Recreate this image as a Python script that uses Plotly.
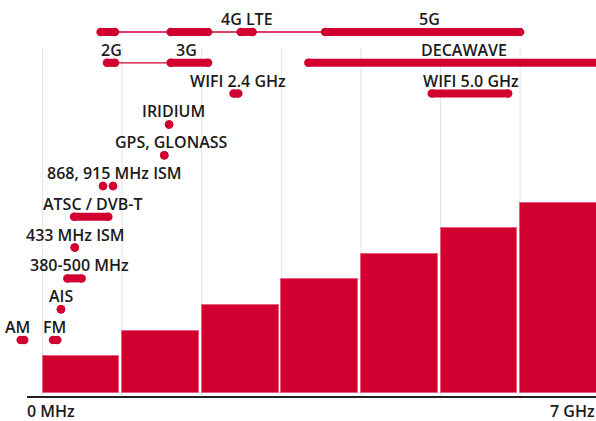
import plotly.graph_objects as go

# ---------------- data ----------------
# bars: one per GHz slot (0..7 GHz)
bar_start_ghz = [0, 1, 2, 3, 4, 5, 6]
bar_heights = [1.43, 2.42, 3.42, 4.44, 5.43, 6.44, 7.44]

# frequency bands (GHz) drawn as rounded segments / dots, and the row (lane) they sit on
seg_lane  = [10, 10, 10, 10, 9, 9, 9, 8, 8, 7, 6, 5, 5, 4, 3, 2, 1, 0, 0]
seg_start = [0.73, 1.61, 2.49, 3.55, 0.81, 1.61, 3.34, 2.40, 4.89, 1.59, 1.53, 0.76, 0.886,
             0.396, 0.405, 0.312, 0.232, -0.274, 0.132]
seg_end   = [0.91, 2.08, 2.64, 6.00, 0.91, 2.08, 7.10, 2.46, 5.85, 1.59, 1.53, 0.76, 0.886,
             0.827, 0.405, 0.492, 0.232, -0.229, 0.186]

# thin connecting lines between grouped segments
conn_lane  = [10, 9]
conn_start = [0.73, 0.91]
conn_end   = [3.55, 1.61]

# labels
label_text = ["4G LTE", "5G", "2G", "3G", "DECAWAVE", "WIFI 2.4 GHz", "WIFI 5.0 GHz",
              "IRIDIUM", "GPS, GLONASS", "868, 915 MHz ISM", "ATSC / DVB-T",
              "433 MHz ISM", "380-500 MHz", "AIS", "AM", "FM"]
label_x    = [2.575, 4.864, 0.861, 1.815, 5.30, 2.45, 5.377, 1.643, 1.618, 0.905, 0.638,
              0.418, 0.465, 0.23, -0.31, 0.153]
label_lane = [10, 10, 9, 9, 9, 8, 8, 7, 6, 5, 4, 3, 2, 1, 0, 0]

axis_tick_text = ["0 MHz", "7 GHz"]

# ---------------- style / layout constants ----------------
W, H = 596, 421
RED = "#d10031"
TXT = "#1b1b1b"
FONT = "Open Sans"
FS = 16
FW = 600
MB = 24                       # bottom margin
PH = H - MB                   # plot height in px
PX0 = 42.5                    # pixel of 0 GHz
PPG = 79.6                    # px per GHz
BASE_PX = 392.5               # bar base pixel
PPU = 25.5                    # px per bar unit
LANE0_PX = 340.0              # pixel of lane 0
PPL = 30.8                    # px per lane

xr = [-PX0 / PPG, (W - PX0) / PPG]
yr = [-(PH - BASE_PX) / PPU, BASE_PX / PPU]
y2r = [(LANE0_PX - PH) / PPL, LANE0_PX / PPL]

fig = go.Figure()

# bars
fig.add_trace(go.Bar(
    x=bar_start_ghz, y=bar_heights, offset=0, width=0.965,
    marker=dict(color=RED, line=dict(color="#e8607c", width=1)),
    hoverinfo="skip", showlegend=False, yaxis="y"))

# connectors
cx, cy = [], []
for l, s, e in zip(conn_lane, conn_start, conn_end):
    cx += [s, e, None]
    cy += [l, l, None]
fig.add_trace(go.Scatter(x=cx, y=cy, mode="lines", yaxis="y2",
                         line=dict(color=RED, width=1.3),
                         hoverinfo="skip", showlegend=False))

# segments with rounded ends
sx, sy = [], []
for l, s, e in zip(seg_lane, seg_start, seg_end):
    sx += [s, e, None]
    sy += [l, l, None]
fig.add_trace(go.Scatter(x=sx, y=sy, mode="lines+markers", yaxis="y2",
                         line=dict(color=RED, width=8),
                         marker=dict(color=RED, size=8.5, line=dict(width=0)),
                         hoverinfo="skip", showlegend=False))

font = dict(family=FONT, size=FS, color=TXT, weight=FW)
annotations = []
for t, x, l in zip(label_text, label_x, label_lane):
    annotations.append(dict(text=t, x=x, y=l, xref="x", yref="y2", yshift=13,
                            showarrow=False, xanchor="center", yanchor="middle", font=font))
# axis end labels: 0 GHz sits at the x-axis origin, 7 GHz at the right edge of the plot
annotations.append(dict(text=axis_tick_text[0], x=0, y=0, xref="x", yref="paper",
                        yshift=-1, xshift=8, showarrow=False, xanchor="center",
                        yanchor="top", font=font))
annotations.append(dict(text=axis_tick_text[1], x=1, y=0, xref="paper", yref="paper",
                        yshift=-1, xshift=1, showarrow=False, xanchor="right",
                        yanchor="top", font=font))

shapes = []
for g in range(0, 7):
    shapes.append(dict(type="line", xref="x", yref="paper", x0=g, x1=g, y0=0,
                       y1=(PH - 48) / PH, layer="below",
                       line=dict(color="#e4e4e4", width=1)))
shapes.append(dict(type="line", xref="paper", yref="paper", x0=27 / W, x1=1.02, y0=0, y1=0,
                   line=dict(color="#222222", width=2)))

fig.update_layout(
    width=W, height=H,
    margin=dict(l=0, r=0, t=0, b=MB),
    paper_bgcolor="white", plot_bgcolor="white",
    bargap=0,
    xaxis=dict(range=xr, showgrid=False, zeroline=False, showticklabels=False,
               showline=False, fixedrange=True),
    yaxis=dict(range=yr, showgrid=False, zeroline=False, showticklabels=False,
               showline=False, fixedrange=True),
    yaxis2=dict(range=y2r, overlaying="y", showgrid=False, zeroline=False,
                showticklabels=False, showline=False, fixedrange=True),
    annotations=annotations,
    shapes=shapes,
    showlegend=False,
)

fig.write_html("out.html", config={"displayModeBar": False},
               post_script="document.body.style.margin='0px';document.body.style.overflow='hidden';")
